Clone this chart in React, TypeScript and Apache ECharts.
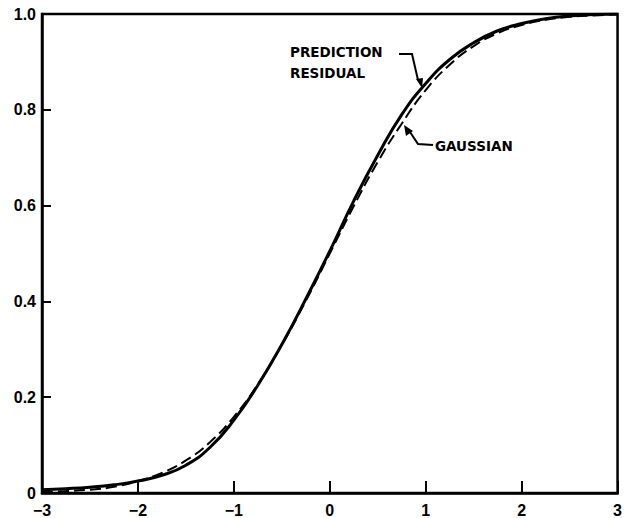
import React, { useEffect, useRef } from "react";
import * as echarts from "echarts";

const xValues = [-3, -2.75, -2.5, -2.25, -2, -1.75, -1.5, -1.25, -1, -0.75, -0.5, -0.25, 0, 0.25, 0.5, 0.75, 1, 1.25, 1.5, 1.75, 2, 2.25, 2.5, 2.75, 3];
const residualValues = [0.007, 0.009, 0.012, 0.017, 0.025, 0.037, 0.058, 0.095, 0.152, 0.225, 0.31, 0.405, 0.505, 0.61, 0.705, 0.79, 0.855, 0.905, 0.94, 0.965, 0.98, 0.99, 0.996, 0.999, 1.0];
const gaussianValues = [0.002, 0.004, 0.007, 0.013, 0.025, 0.042, 0.068, 0.106, 0.159, 0.227, 0.309, 0.401, 0.5, 0.599, 0.691, 0.771, 0.841, 0.894, 0.933, 0.96, 0.977, 0.988, 0.994, 0.997, 0.999];
const xTickLabels: Record<string, string> = { "-3": "−3", "-2": "−2", "-1": "−1", "0": "0", "1": "1", "2": "2", "3": "3" };
const yTickLabels: Record<string, string> = { "0": "0", "0.2": "0.2", "0.4": "0.4", "0.6": "0.6", "0.8": "0.8", "1": "1.0" };

export default function App() {
  const ref = useRef<HTMLDivElement>(null);
  useEffect(() => {
    if (!ref.current) return;
    const chart = echarts.init(ref.current, null, { renderer: "svg" });
    const labelFont = { fontFamily: "DejaVu Sans, sans-serif", fontWeight: "bold" as const, fill: "#000" };
    chart.setOption({
      animation: false,
      backgroundColor: "#fff",
      grid: { left: 42, right: 6, top: 14, bottom: 24, show: true, borderColor: "#000", borderWidth: 2.5 },
      xAxis: {
        type: "value",
        min: -3,
        max: 3,
        interval: 1,
        axisLine: { show: true, onZero: false, lineStyle: { color: "#000", width: 2.5 } },
        axisTick: { show: true, inside: true, length: 12, lineStyle: { color: "#000", width: 2 } },
        splitLine: { show: false },
        axisLabel: {
          color: "#000",
          fontSize: 16,
          fontWeight: "bold",
          fontFamily: "Liberation Sans, Arial, sans-serif",
          margin: 9,
          formatter: (v: number) => xTickLabels[String(v)] ?? String(v),
        },
      },
      yAxis: {
        type: "value",
        min: 0,
        max: 1,
        interval: 0.2,
        axisLine: { show: true, onZero: false, lineStyle: { color: "#000", width: 2.5 } },
        axisTick: { show: true, inside: true, length: 9, lineStyle: { color: "#000", width: 2 } },
        splitLine: { show: false },
        axisLabel: {
          color: "#000",
          fontSize: 16,
          fontWeight: "bold",
          fontFamily: "Liberation Sans, Arial, sans-serif",
          margin: 6,
          formatter: (v: number) => yTickLabels[String(Math.round(v * 10) / 10)] ?? String(v),
        },
      },
      series: [
        {
          name: "GAUSSIAN",
          type: "line",
          smooth: true,
          showSymbol: false,
          data: xValues.map((x, i) => [x, gaussianValues[i]]),
          lineStyle: { color: "#000", width: 2, type: [11, 5] },
          z: 2,
        },
        {
          name: "PREDICTION RESIDUAL",
          type: "line",
          smooth: true,
          showSymbol: false,
          data: xValues.map((x, i) => [x, residualValues[i]]),
          lineStyle: { color: "#000", width: 3 },
          z: 3,
        },
      ],
      graphic: [
        { type: "text", left: 290, top: 45, style: { ...labelFont, text: "PREDICTION", fontSize: 13.5 } },
        { type: "text", left: 290, top: 66, style: { ...labelFont, text: "RESIDUAL", fontSize: 13.5 } },
        { type: "text", left: 435, top: 139, style: { ...labelFont, text: "GAUSSIAN", fontSize: 13.5 } },
        { type: "polyline", shape: { points: [[399, 54], [412, 54], [418, 80]] }, style: { stroke: "#000", lineWidth: 2, fill: "none" } },
        { type: "polygon", shape: { points: [[416, 79], [423, 78], [422, 88]] }, style: { fill: "#000" } },
        { type: "polyline", shape: { points: [[433, 145], [418, 144], [410, 132]] }, style: { stroke: "#000", lineWidth: 2, fill: "none" } },
        { type: "polygon", shape: { points: [[406, 136], [413, 131], [404, 125]] }, style: { fill: "#000" } },
      ],
    });
    return () => chart.dispose();
  }, []);
  return <div ref={ref} style={{ position: "fixed", left: 0, top: 0, width: 625, height: 518 }} />;
}
